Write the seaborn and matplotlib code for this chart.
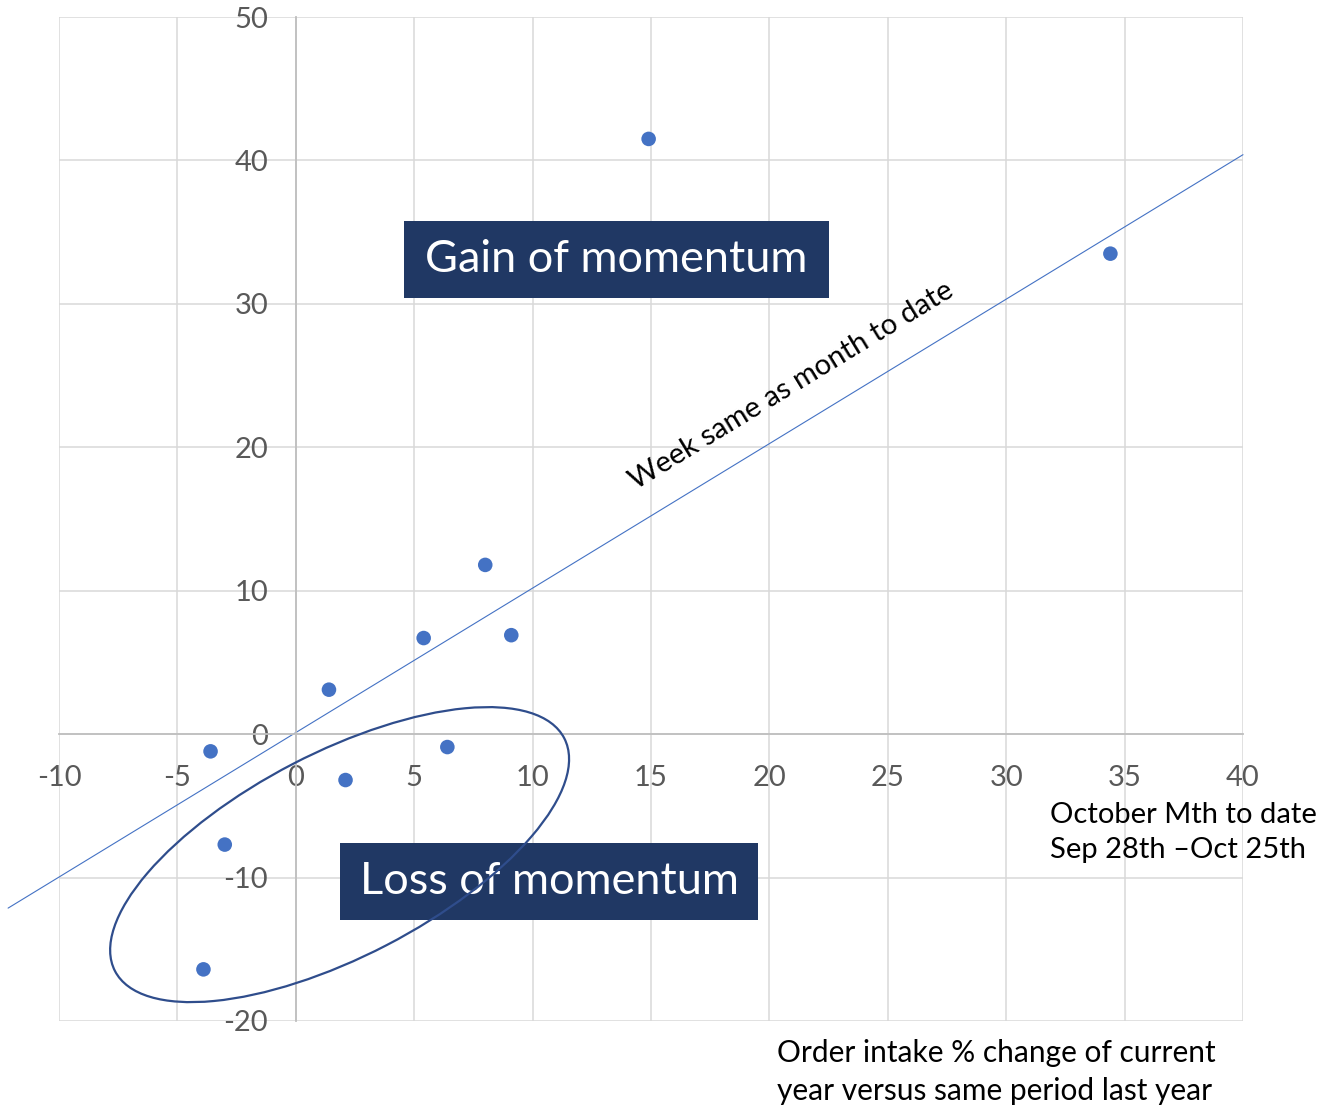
import matplotlib.pyplot as plt
import seaborn as sns
import pandas as pd
from matplotlib.patches import Ellipse, Rectangle
from matplotlib.transforms import IdentityTransform

# month-to-date change (x) vs week change (y), in %
month_change = [-3.6, -3.0, -3.9, 1.4, 2.1, 5.4, 6.4, 8.0, 9.1, 14.9, 34.4]
week_change = [-1.2, -7.7, -16.4, 3.1, -3.2, 6.7, -0.9, 11.8, 6.9, 41.5, 33.5]
x_ticks = [-10, -5, 0, 5, 10, 15, 20, 25, 30, 35, 40]
y_ticks = [-20, -10, 0, 10, 20, 30, 40, 50]
ref_line_x = [-12.15, 40.0]
ref_line_y = [-12.13, 40.4]

df = pd.DataFrame({'month': month_change, 'week': week_change})

sns.set_style("white")
plt.rcParams['font.family'] = ['Lato', 'DejaVu Sans']
plt.rcParams['axes.unicode_minus'] = False

fig = plt.figure(figsize=(13.19, 11.07), dpi=100)
ax = fig.add_axes([0.04473, 0.07769, 0.89765, 0.90695])

ax.set_xlim(-10, 40)
ax.set_ylim(-20, 50)
ax.set_xticks(x_ticks)
ax.set_yticks(y_ticks)
ax.grid(True, color='#D9D9D9', linewidth=1.1, zorder=0)

for side in ['top', 'right']:
    ax.spines[side].set_visible(False)
ax.spines['left'].set_position(('data', 0))
ax.spines['bottom'].set_position(('data', 0))
ax.spines['left'].set_color('#BFBFBF')
ax.spines['bottom'].set_color('#BFBFBF')
ax.spines['left'].set_linewidth(1.3)
ax.spines['bottom'].set_linewidth(1.3)
ax.tick_params(axis='both', length=0, labelsize=21, labelcolor='#595959')
ax.tick_params(axis='y', pad=20)
ax.tick_params(axis='x', pad=22)

# week same as month line
ax.plot(ref_line_x, ref_line_y, color='#4472C4', linewidth=0.8, clip_on=False, zorder=2)
ax.text(20.95, 24.3, 'Week same as month to date', rotation=31.4, rotation_mode='anchor',
        ha='center', va='center', fontsize=21, color='black')

sns.scatterplot(data=df, x='month', y='week', ax=ax, color='#4472C4', s=110,
                edgecolor='none', zorder=4, clip_on=False)
ax.set_xlabel('')
ax.set_ylabel('')

# labelled boxes
ax.add_patch(Rectangle((4.57, 30.40), 17.95, 5.37, facecolor='#203864', edgecolor='none', zorder=5))
ax.text(13.54, 33.09, 'Gain of momentum', ha='center', va='center', color='white',
        fontsize=32.5, zorder=6)
ax.add_patch(Rectangle((1.87, -12.97), 17.65, 5.37, facecolor='#203864', edgecolor='none', zorder=5))
ax.text(10.69, -10.29, 'Loss of momentum', ha='center', va='center', color='white',
        fontsize=32.5, zorder=6)

# ellipse round the losers, drawn in pixels
cx, cy = ax.transData.transform((1.85, -8.4))
ax.add_patch(Ellipse((cx, cy), 506, 204, angle=27.4, transform=IdentityTransform(),
                     fill=False, edgecolor='#2F4D8C', linewidth=1.6, zorder=7))

fig.text(1050 / 1319, 1 - 802 / 1107, 'October Mth to date\nSep 28th \u2013Oct 25th',
         ha='left', va='top', fontsize=21, color='black', linespacing=1.45)
fig.text(777 / 1319, 1 - 1039 / 1107, 'Order intake % change of current\nyear versus same period last year',
         ha='left', va='top', fontsize=21.5, color='black', linespacing=1.42)

plt.savefig('out.png', dpi=100)
